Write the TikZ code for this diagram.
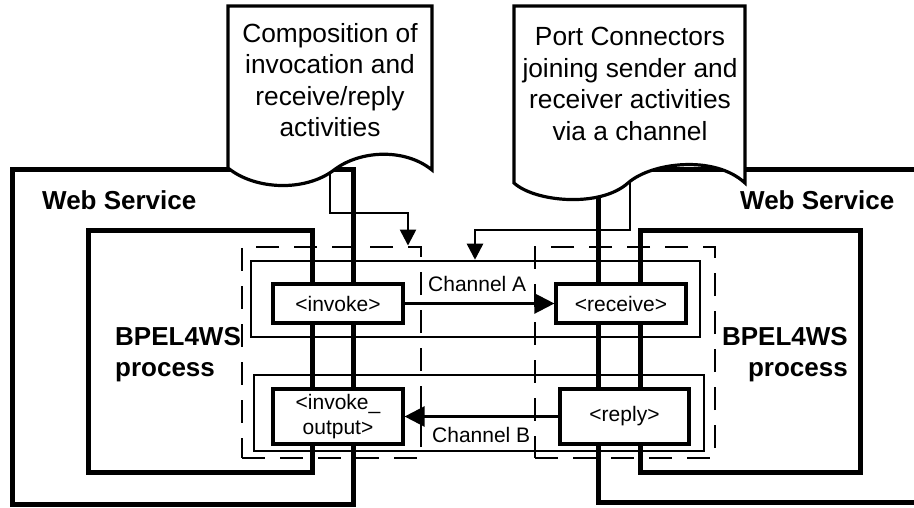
\documentclass[tikz,border=0pt]{standalone}
\usepackage{fontspec}
\setmainfont{Liberation Sans}
\usetikzlibrary{arrows.meta}
\begin{document}
\begin{tikzpicture}[x=1pt,y=-1pt,
  wsbox/.style={draw, line width=5pt, rectangle, inner sep=0pt},
  dashbox/.style={draw, line width=2.9pt, dash pattern=on 23pt off 15pt, inner sep=0pt},
  lanebox/.style={draw, line width=2.5pt, inner sep=0pt},
  actbox/.style={draw, line width=3.2pt, fill=white, inner sep=0pt, align=center, font=\fontsize{21}{25}\selectfont},
  conn/.style={line width=2.5pt},
  bigtip/.style={-{Triangle[length=20pt,width=20pt]}},
  smalltip/.style={-{Triangle[length=16pt,width=16pt]}},
  lbl/.style={font=\fontsize{21}{25}\selectfont, inner sep=0pt},
  boldlbl/.style={font=\fontsize{26}{31}\selectfont\bfseries, inner sep=0pt},
  callout/.style={draw, line width=3.2pt, fill=white, line join=miter},
  callouttext/.style={font=\fontsize{26.3}{31.5}\selectfont, align=center, inner sep=0pt}
]
\path[use as bounding box] (0,0) rectangle (914,508);
\clip (0,0) rectangle (914,508);

% Web service and BPEL boxes
\node[wsbox, minimum width=341pt, minimum height=334pt] (wsL) at (182.5,337) {};
\node[wsbox, minimum width=340pt, minimum height=332pt] (wsR) at (768,336) {};
\node[wsbox, minimum width=224pt, minimum height=241pt] (bpL) at (200,351.5) {};
\node[wsbox, minimum width=220pt, minimum height=241pt] (bpR) at (750,351.5) {};

% dashed port connector boxes
\node[dashbox, minimum width=179pt, minimum height=211pt] (dL) at (331.5,352.5) {};
\node[dashbox, minimum width=180pt, minimum height=211pt] (dR) at (625,352.5) {};

% lanes
\node[lanebox, minimum width=449pt, minimum height=76pt] (laneA) at (475.5,299) {};
\node[lanebox, minimum width=450pt, minimum height=76pt] (laneB) at (479,413) {};

% callout arrows
\coordinate (c1s) at (330,150);
\coordinate (c1b) at (408,213);
\draw[conn, smalltip] (c1s) |- (c1b) -- (c1b |- dL.north);
\coordinate (c2s) at (630,160);
\coordinate (c2b) at (475,230);
\draw[conn, smalltip] (c2s) |- (c2b) -- (c2b |- laneA.north);

% activities
\node[actbox, minimum width=130pt, minimum height=39pt] (inv) at (338,303.5) {<invoke>};
\node[actbox, minimum width=130pt, minimum height=39pt] (rcv) at (621,303.5) {<receive>};
\node[actbox, minimum width=130pt, minimum height=55pt] (invo) at (338,416.5) {<invoke\_\\output>};
\node[actbox, minimum width=129pt, minimum height=55pt] (rpl) at (624.5,416.5) {<reply>};

% channels
\draw[conn, bigtip] (inv.east) -- (rcv.west);
\draw[conn, bigtip] (rpl.west) -- (invo.east);
\node[lbl, anchor=base west] (chA) at (428,291) {Channel A};
\node[lbl, anchor=base west] (chB) at (432,442) {Channel B};

% labels
\node[boldlbl, anchor=base west] (wsLt) at (42,210) {Web Service};
\node[boldlbl, anchor=base west] (wsRt) at (740,210) {Web Service};
\node[boldlbl, anchor=north west, align=left] (bpLt) at (115,327) {BPEL4WS\\process};
\node[boldlbl, anchor=north east, align=right] (bpRt) at (848,327) {BPEL4WS\\process};

% callouts
\draw[callout] (228,168) -- (228,6) -- (432,6) -- (432,170)
  .. controls (405,148) and (360,150) .. (334,170)
  .. controls (305,192) and (255,190) .. (228,168) -- cycle;
\node[callouttext, anchor=north] (t1) at (330,23) {Composition of\\invocation and\\receive/reply\\activities};
\draw[callout] (514,183) -- (514,6) -- (745,6) -- (745,183)
  .. controls (715,155) and (652,162) .. (628,183)
  .. controls (600,208) and (535,202) .. (514,183) -- cycle;
\node[callouttext, anchor=north] (t2) at (630,27) {Port Connectors\\joining sender and\\receiver activities\\via a channel};
\end{tikzpicture}
\end{document}
